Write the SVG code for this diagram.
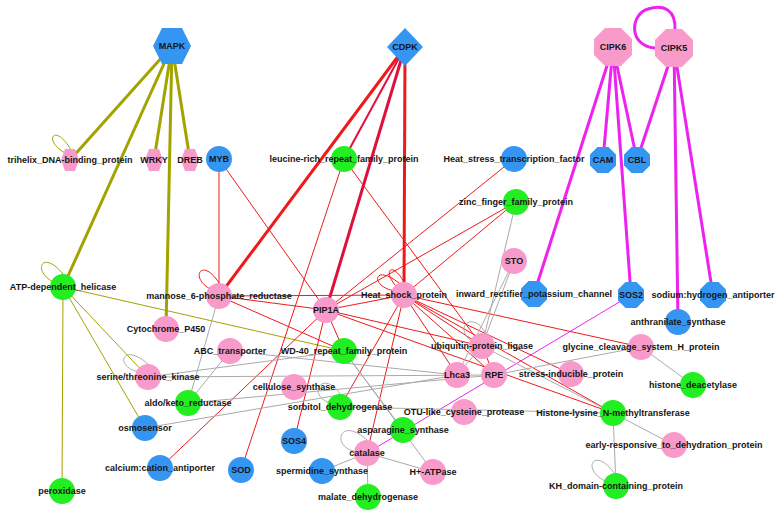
<svg xmlns="http://www.w3.org/2000/svg" xmlns:xlink="http://www.w3.org/1999/xlink" width="782" height="519" viewBox="0 0 782 519">
<style>
text{font-family:"Liberation Sans",Arial,sans-serif;font-weight:bold;font-size:9px;text-anchor:middle;fill:#151515}
.b{fill:#3596f2}.p{fill:#f99bca}.g{fill:#22ee22}
#edges path,#edges line{fill:none}
.ol{stroke:#a3a300}.rd{stroke:#ee1a1a}.cr{stroke:#e0103c}.mg{stroke:#ee22ee}.gr{stroke:#aaaaaa}
.tk{stroke-width:3}.tn{stroke-width:1}
</style>
<defs>
<polygon id="hexL" points="-19,0 -10,-18 10,-18 19,0 10,18 -10,18"/>
<polygon id="hexS" points="-9,0 -5,-11 5,-11 9,0 5,11 -5,11"/>
<polygon id="dia" points="0,-19 18,0 0,19 -18,0"/>
<polygon id="octL" points="-8,-19 8,-19 19,-8 19,8 8,19 -8,19 -19,8 -19,-8"/>
<polygon id="octS" points="-5.5,-13 5.5,-13 13,-5.5 13,5.5 5.5,13 -5.5,13 -13,5.5 -13,-5.5"/>
<circle id="cir" r="13"/>
</defs>
<rect width="782" height="519" fill="#ffffff"/>
<g id="edges">
<line class="ol tk" x1="172" y1="46" x2="70" y2="160"/>
<line class="ol tk" x1="172" y1="46" x2="154" y2="160"/>
<line class="ol tk" x1="172" y1="46" x2="190" y2="160"/>
<line class="ol tk" x1="172" y1="46" x2="63" y2="287"/>
<line class="ol tk" x1="172" y1="46" x2="166" y2="329"/>
<path class="ol tn" d="M65,153 C42,140 55,122 71,150"/>
<path class="ol tn" d="M57,284 C30,272 42,248 63,274"/>
<line class="ol tn" x1="63" y1="287" x2="62" y2="491"/>
<line class="ol tn" x1="63" y1="287" x2="148" y2="377"/>
<line class="ol tn" x1="63" y1="287" x2="145" y2="428"/>
<line class="ol tn" x1="63" y1="287" x2="344" y2="351"/>
<line class="rd tk" x1="405" y1="47" x2="219" y2="296"/>
<line class="cr tk" x1="405" y1="47" x2="326" y2="310"/>
<line class="rd tk" x1="405" y1="47" x2="404" y2="295"/>
<line class="cr" stroke-width="2" x1="405" y1="47" x2="344" y2="159"/>
<line class="mg tk" x1="613" y1="47" x2="534" y2="294"/>
<line class="mg tk" x1="613" y1="47" x2="603" y2="160"/>
<line class="mg tk" x1="613" y1="47" x2="631" y2="295"/>
<line class="mg tk" x1="613" y1="47" x2="637" y2="160"/>
<line class="mg tk" x1="674" y1="48" x2="637" y2="160"/>
<line class="mg tk" x1="674" y1="48" x2="678" y2="322"/>
<line class="mg tk" x1="674" y1="48" x2="713" y2="295"/>
<path class="mg tk" d="M655,48 C628,46 630,14 648,9 C664,4 676,10 675,30"/>
<line class="mg tn" x1="631" y1="295" x2="367" y2="453"/>
<line class="rd tn" x1="219" y1="159" x2="219" y2="296"/>
<line class="rd tn" x1="219" y1="159" x2="326" y2="310"/>
<line class="rd tn" x1="344" y1="159" x2="241" y2="470"/>
<line class="rd tn" x1="344" y1="159" x2="482" y2="346"/>
<line class="rd tn" x1="514" y1="159" x2="326" y2="310"/>
<line class="rd tn" x1="516" y1="202" x2="404" y2="295"/>
<line class="rd tn" x1="516" y1="202" x2="326" y2="310"/>
<line class="rd tn" x1="219" y1="296" x2="326" y2="310"/>
<line class="rd tn" x1="219" y1="296" x2="404" y2="295"/>
<line class="rd tn" x1="219" y1="296" x2="344" y2="351"/>
<path class="rd tn" d="M212,290 C188,278 202,256 219,283"/>
<line class="rd tn" x1="326" y1="310" x2="404" y2="295"/>
<line class="rd tn" x1="326" y1="310" x2="344" y2="351"/>
<line class="rd tn" x1="326" y1="310" x2="294" y2="441"/>
<line class="rd tn" x1="326" y1="310" x2="160" y2="468"/>
<line class="rd tn" x1="326" y1="310" x2="482" y2="346"/>
<line class="rd tn" x1="326" y1="310" x2="613" y2="413"/>
<line class="rd tn" x1="404" y1="295" x2="340" y2="407"/>
<line class="rd tn" x1="404" y1="295" x2="367" y2="453"/>
<line class="rd tn" x1="404" y1="295" x2="482" y2="346"/>
<line class="rd tn" x1="404" y1="295" x2="571" y2="374"/>
<line class="rd tn" x1="404" y1="295" x2="641" y2="347"/>
<line class="rd tn" x1="404" y1="295" x2="613" y2="413"/>
<line class="rd tn" x1="404" y1="295" x2="494" y2="375"/>
<line class="rd tn" x1="404" y1="295" x2="457" y2="375"/>
<path class="rd tn" d="M396,291 C370,288 372,262 399,283"/>
<path class="rd tn" d="M399,289 C382,274 390,258 404,282"/>
<line class="rd tn" x1="482" y1="346" x2="494" y2="375"/>
<line class="gr tn" x1="219" y1="296" x2="188" y2="403"/>
<line class="gr tn" x1="516" y1="202" x2="482" y2="346"/>
<line class="gr tn" x1="514" y1="261" x2="482" y2="346"/>
<line class="gr tn" x1="514" y1="261" x2="457" y2="375"/>
<path class="gr tn" d="M472,342 C452,326 474,310 486,334"/>
<line class="gr tn" x1="482" y1="346" x2="457" y2="375"/>
<line class="gr tn" x1="482" y1="346" x2="613" y2="413"/>
<line class="gr tn" x1="494" y1="375" x2="641" y2="347"/>
<path class="gr tn" d="M142,372 C114,370 120,340 148,364"/>
<line class="gr tn" x1="148" y1="377" x2="344" y2="351"/>
<line class="gr tn" x1="148" y1="377" x2="494" y2="375"/>
<line class="gr tn" x1="230" y1="351" x2="457" y2="375"/>
<line class="gr tn" x1="188" y1="403" x2="230" y2="351"/>
<line class="gr tn" x1="188" y1="403" x2="494" y2="375"/>
<line class="gr tn" x1="145" y1="428" x2="457" y2="375"/>
<path class="gr tn" d="M333,404 C304,396 323,368 340,394"/>
<line class="gr tn" x1="340" y1="407" x2="613" y2="413"/>
<line class="gr tn" x1="344" y1="351" x2="403" y2="430"/>
<line class="gr tn" x1="344" y1="351" x2="433" y2="472"/>
<line class="gr tn" x1="367" y1="453" x2="322" y2="471"/>
<line class="gr tn" x1="367" y1="453" x2="368" y2="497"/>
<line class="gr tn" x1="367" y1="453" x2="433" y2="472"/>
<path class="gr tn" d="M359,452 C330,450 338,414 367,440"/>
<line class="gr tn" x1="641" y1="347" x2="693" y2="385"/>
<line class="gr tn" x1="613" y1="413" x2="674" y2="445"/>
<line class="gr tn" x1="613" y1="413" x2="616" y2="486"/>
<path class="gr tn" d="M607,482 C580,470 594,445 614,473"/>
</g>
<g id="MAPK" transform="translate(172,46)"><use href="#hexL" class="b"/><text y="3">MAPK</text></g>
<g id="CDPK" transform="translate(405,47)"><use href="#dia" class="b"/><text y="3">CDPK</text></g>
<g id="CIPK6" transform="translate(613,47)"><use href="#octL" class="p"/><text y="3">CIPK6</text></g>
<g id="CIPK5" transform="translate(674,48)"><use href="#octL" class="p"/><text y="3">CIPK5</text></g>
<g id="trihelix_DNA-binding_protein" transform="translate(70,160)"><use href="#hexS" class="p"/><text y="3">trihelix_DNA-binding_protein</text></g>
<g id="WRKY" transform="translate(154,160)"><use href="#hexS" class="p"/><text y="3">WRKY</text></g>
<g id="DREB" transform="translate(190,160)"><use href="#hexS" class="p"/><text y="3">DREB</text></g>
<g id="MYB" transform="translate(219,159)"><use href="#cir" class="b"/><text y="3">MYB</text></g>
<g id="leucine-rich_repeat_family_protein" transform="translate(344,159)"><use href="#cir" class="g"/><text y="3">leucine-rich_repeat_family_protein</text></g>
<g id="Heat_stress_transcription_factor" transform="translate(514,159)"><use href="#cir" class="b"/><text y="3">Heat_stress_transcription_factor</text></g>
<g id="CAM" transform="translate(603,160)"><use href="#octS" class="b"/><text y="3">CAM</text></g>
<g id="CBL" transform="translate(637,160)"><use href="#octS" class="b"/><text y="3">CBL</text></g>
<g id="zinc_finger_family_protein" transform="translate(516,202)"><use href="#cir" class="g"/><text y="3">zinc_finger_family_protein</text></g>
<g id="STO" transform="translate(514,261)"><use href="#cir" class="p"/><text y="3">STO</text></g>
<g id="inward_rectifier_potassium_channel" transform="translate(534,294)"><use href="#octS" class="b"/><text y="3">inward_rectifier_potassium_channel</text></g>
<g id="SOS2" transform="translate(631,295)"><use href="#octS" class="b"/><text y="3">SOS2</text></g>
<g id="sodium_hydrogen_antiporter" transform="translate(713,295)"><use href="#octS" class="b"/><text y="3">sodium:hydrogen_antiporter</text></g>
<g id="anthranilate_synthase" transform="translate(678,322)"><use href="#cir" class="b"/><text y="3">anthranilate_synthase</text></g>
<g id="ATP-dependent_helicase" transform="translate(63,287)"><use href="#cir" class="g"/><text y="3">ATP-dependent_helicase</text></g>
<g id="mannose_6-phosphate_reductase" transform="translate(219,296)"><use href="#cir" class="p"/><text y="3">mannose_6-phosphate_reductase</text></g>
<g id="PIP1A" transform="translate(326,310)"><use href="#cir" class="p"/><text y="3">PIP1A</text></g>
<g id="Heat_shock_protein" transform="translate(404,295)"><use href="#cir" class="p"/><text y="3">Heat_shock_protein</text></g>
<g id="Cytochrome_P450" transform="translate(166,329)"><use href="#cir" class="p"/><text y="3">Cytochrome_P450</text></g>
<g id="ABC_transporter" transform="translate(230,351)"><use href="#cir" class="p"/><text y="3">ABC_transporter</text></g>
<g id="WD-40_repeat_family_protein" transform="translate(344,351)"><use href="#cir" class="g"/><text y="3">WD-40_repeat_family_protein</text></g>
<g id="ubiquitin-protein_ligase" transform="translate(482,346)"><use href="#cir" class="p"/><text y="3">ubiquitin-protein_ligase</text></g>
<g id="glycine_cleavage_system_H_protein" transform="translate(641,347)"><use href="#cir" class="p"/><text y="3">glycine_cleavage_system_H_protein</text></g>
<g id="serine_threonine_kinase" transform="translate(148,377)"><use href="#cir" class="p"/><text y="3">serine/threonine_kinase</text></g>
<g id="Lhca3" transform="translate(457,375)"><use href="#cir" class="p"/><text y="3">Lhca3</text></g>
<g id="RPE" transform="translate(494,375)"><use href="#cir" class="p"/><text y="3">RPE</text></g>
<g id="stress-inducible_protein" transform="translate(571,374)"><use href="#cir" class="p"/><text y="3">stress-inducible_protein</text></g>
<g id="histone_deacetylase" transform="translate(693,385)"><use href="#cir" class="g"/><text y="3">histone_deacetylase</text></g>
<g id="cellulose_synthase" transform="translate(294,387)"><use href="#cir" class="p"/><text y="3">cellulose_synthase</text></g>
<g id="aldo_keto_reductase" transform="translate(188,403)"><use href="#cir" class="g"/><text y="3">aldo/keto_reductase</text></g>
<g id="sorbitol_dehydrogenase" transform="translate(340,407)"><use href="#cir" class="g"/><text y="3">sorbitol_dehydrogenase</text></g>
<g id="OTU-like_cysteine_protease" transform="translate(464,412)"><use href="#cir" class="p"/><text y="3">OTU-like_cysteine_protease</text></g>
<g id="Histone-lysine_N-methyltransferase" transform="translate(613,413)"><use href="#cir" class="g"/><text y="3">Histone-lysine_N-methyltransferase</text></g>
<g id="osmosensor" transform="translate(145,428)"><use href="#cir" class="b"/><text y="3">osmosensor</text></g>
<g id="asparagine_synthase" transform="translate(403,430)"><use href="#cir" class="g"/><text y="3">asparagine_synthase</text></g>
<g id="SOS4" transform="translate(294,441)"><use href="#cir" class="b"/><text y="3">SOS4</text></g>
<g id="early-responsive_to_dehydration_protein" transform="translate(674,445)"><use href="#cir" class="p"/><text y="3">early-responsive_to_dehydration_protein</text></g>
<g id="catalase" transform="translate(367,453)"><use href="#cir" class="p"/><text y="3">catalase</text></g>
<g id="calcium_cation_antiporter" transform="translate(160,468)"><use href="#cir" class="b"/><text y="3">calcium:cation_antiporter</text></g>
<g id="SOD" transform="translate(241,470)"><use href="#cir" class="b"/><text y="3">SOD</text></g>
<g id="spermidine_synthase" transform="translate(322,471)"><use href="#cir" class="b"/><text y="3">spermidine_synthase</text></g>
<g id="H-ATPase" transform="translate(433,472)"><use href="#cir" class="p"/><text y="3">H+-ATPase</text></g>
<g id="KH_domain-containing_protein" transform="translate(616,486)"><use href="#cir" class="g"/><text y="3">KH_domain-containing_protein</text></g>
<g id="malate_dehydrogenase" transform="translate(368,497)"><use href="#cir" class="g"/><text y="3">malate_dehydrogenase</text></g>
<g id="peroxidase" transform="translate(62,491)"><use href="#cir" class="g"/><text y="3">peroxidase</text></g>
</svg>
